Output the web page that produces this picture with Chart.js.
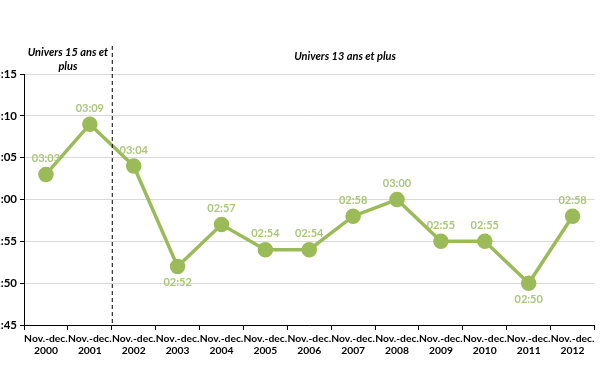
<!DOCTYPE html>
<html>
<head>
<meta charset="utf-8">
<script src="https://cdn.jsdelivr.net/npm/chart.js@4"></script>
<style>
    html, body { margin: 0; padding: 0; background: #fff; overflow: hidden; }
    #wrap { position: absolute; left: -36px; top: 0; width: 640px; height: 372px; }
</style>
</head>
<body>
<div id="wrap"><canvas id="Duree"></canvas></div>
<script>
var xValues = [["Nov.-dec.", "2000"], ["Nov.-dec.", "2001"], ["Nov.-dec.", "2002"], ["Nov.-dec.", "2003"],
    ["Nov.-dec.", "2004"], ["Nov.-dec.", "2005"], ["Nov.-dec.", "2006"], ["Nov.-dec.", "2007"],
    ["Nov.-dec.", "2008"], ["Nov.-dec.", "2009"], ["Nov.-dec.", "2010"], ["Nov.-dec.", "2011"],
    ["Nov.-dec.", "2012"]];
// durée en minutes (03:03 = 183)
var yValues = [183, 189, 184, 172, 177, 174, 174, 178, 180, 175, 175, 170, 178];
var labelsBelow = [3, 11];
var univers = ["Univers 15 ans et", "plus", "Univers 13 ans et plus"];
var lineColor = "#9bbb59";

function hhmm(v) {
    var h = Math.floor(v / 60), m = v % 60;
    return (h < 10 ? "0" : "") + h + ":" + (m < 10 ? "0" : "") + m;
}

var extras = {
    id: "extras",
    afterDatasetsDraw: function(chart) {
        var ctx = chart.ctx;
        var x = chart.scales.x, y = chart.scales.y;
        var meta = chart.getDatasetMeta(0);
        ctx.save();
        // valeurs
        ctx.font = "bold 11px Lato";
        ctx.fillStyle = "#abc67b";
        ctx.textAlign = "center";
        ctx.textBaseline = "middle";
        meta.data.forEach(function(pt, i) {
            var dy = labelsBelow.indexOf(i) >= 0 ? 16 : -16;
            ctx.fillText(hhmm(yValues[i]), pt.x, pt.y + dy);
        });
        // séparation
        var sx = (x.getPixelForValue(1) + x.getPixelForValue(2)) / 2;
        ctx.strokeStyle = "#000";
        ctx.lineWidth = 1;
        ctx.setLineDash([4, 3]);
        ctx.beginPath();
        ctx.moveTo(sx + 0.5, 46);
        ctx.lineTo(sx + 0.5, y.bottom);
        ctx.stroke();
        ctx.setLineDash([]);
        // univers
        ctx.fillStyle = "#000";
        ctx.font = "italic bold 11px Lato";
        var lx = (chart.chartArea.left + sx) / 2;
        ctx.fillText(univers[0], lx, 52);
        ctx.fillText(univers[1], lx, 66);
        var rx = (x.getPixelForValue(7) + x.getPixelForValue(8)) / 2 - 30;
        ctx.fillText(univers[2], rx, 56);
        ctx.restore();
    }
};

var ChartDuree = {
    type: "line",
    data: {
        labels: xValues,
        datasets: [{
            data: yValues,
            borderColor: lineColor,
            backgroundColor: lineColor,
            borderWidth: 3.5,
            pointRadius: 6,
            pointHoverRadius: 6,
            tension: 0
        }]
    },
    options: {
        responsive: true,
        maintainAspectRatio: false,
        animation: false,
        layout: { padding: { top: 74, right: 2, left: 0, bottom: 0 } },
        plugins: {
            legend: { display: false },
            tooltip: { enabled: false }
        },
        scales: {
            x: {
                offset: true,
                grid: { offset: true, drawOnChartArea: false, drawTicks: true, tickLength: 5, color: "#000" },
                border: { color: "#000", width: 1 },
                ticks: {
                    color: "#000",
                    font: { family: "Lato", weight: "bold", size: 10.3 },
                    maxRotation: 0,
                    autoSkip: false,
                    padding: 2
                },
                afterFit: function(s) { s.height = 47; }
            },
            y: {
                min: 165,
                max: 195,
                ticks: {
                    stepSize: 5,
                    color: "#000",
                    font: { family: "Lato", weight: "bold", size: 11.5 },
                    padding: 3,
                    callback: function(v) { return hhmm(v); }
                },
                grid: { color: "#d9d9d9", tickColor: "#000", tickLength: 4 },
                border: { color: "#000", width: 1 },
                afterFit: function(s) { s.width = 60; }
            }
        }
    },
    plugins: [extras]
};

var Duree = document.getElementById("Duree").getContext("2d");
window.D = new Chart(Duree, ChartDuree);
</script>
</body>
</html>
